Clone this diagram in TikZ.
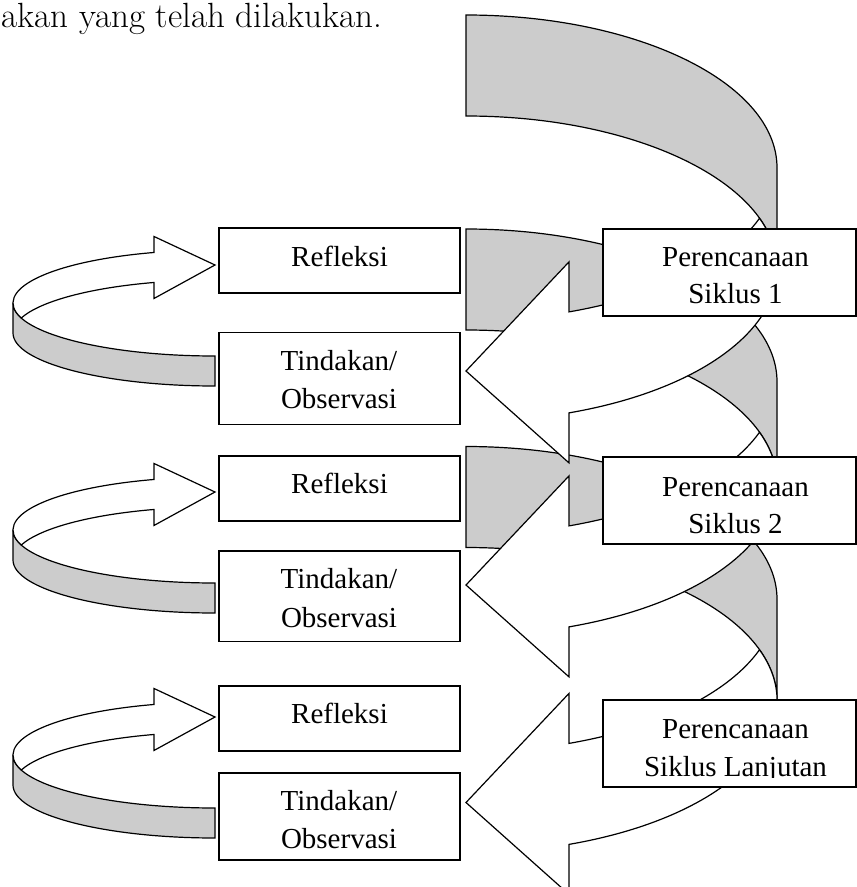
\documentclass[tikz,border=0pt]{standalone}
\usepackage{fontspec}
\newfontfamily\boxfont{Liberation Serif}
\definecolor{shadegrey}{RGB}{204,204,204}
% curved-arrow outline in a local frame (origin = top-left of the tail, y down = negative)
\newcommand{\curvedarrowshape}{%
  \path[backarm] (\cW,-\cRT) arc[start angle=0,end angle=90,x radius=\cW,y radius=\cR]
     -- (0,0) arc[start angle=90,end angle=0,x radius=\cW,y radius=\cR] -- cycle;
  \path[frontarm] (0,-\cYsix) -- (\cA,-\cYfour) -- (\cA,-\cYfive)
     arc[start angle=-\cPa,end angle=-\cPb,x radius=\cW,y radius=\cR]
     arc[start angle=\cPb,end angle=-\cPa,x radius=\cW,y radius=\cR]
     -- (\cA,-\cYeight) -- cycle;
}
\newcommand{\bigparams}{\def\cW{311}\def\cR{152.75}\def\cRT{253.75}\def\cA{103}%
  \def\cYfour{246.88}\def\cYfive{296.88}\def\cYsix{356}\def\cYeight{447.88}%
  \def\cPa{70.658}\def\cPb{19.306}}
\newcommand{\smallparams}{\def\cW{202}\def\cR{53}\def\cRT{83}\def\cA{61}%
  \def\cYfour{87.53}\def\cYfive{103.53}\def\cYsix{121}\def\cYeight{149.53}%
  \def\cPa{72.42}\def\cPb{16.44}}
\begin{document}
\begin{tikzpicture}[x=1pt,y=1pt,
  backarm/.style={fill=shadegrey,draw=black,line width=1.2pt,line join=miter},
  frontarm/.style={fill=white,draw=black,line width=1.2pt,line join=miter},
  stagebox/.style={draw=black,line width=1.3pt,fill=white,inner sep=0pt,outer sep=0pt,anchor=north west},
  stagetext/.style={font=\boxfont\fontsize{29}{35}\selectfont,inner sep=0pt,anchor=base}]
\useasboundingbox (0,0) rectangle (857,-887);
\clip (0,0) rectangle (857,-887);

% intro text (cut-off sentence)
\node[font=\fontsize{35}{40}\selectfont,anchor=base west,inner sep=0pt] (intro) at (1.5,-27) {akan yang telah dilakukan.};

% small curved arrows on the left (rotated curved arrows)
\coordinate (sa1) at (215,-386);
\coordinate (sa2) at (215,-613);
\coordinate (sa3) at (215,-838);
\foreach \c in {sa1,sa2,sa3}{
  \begin{scope}[shift={(\c)},rotate=180]
    \smallparams\curvedarrowshape
  \end{scope}
}

% big curved arrows (bottom one first, top one last)
\coordinate (ba1) at (466,-15);
\coordinate (ba2) at (466,-229);
\coordinate (ba3) at (466,-446.5);
\foreach \c in {ba3,ba2,ba1}{
  \begin{scope}[shift={(\c)}]
    \bigparams\curvedarrowshape
  \end{scope}
}

% left column boxes
\node[stagebox,minimum width=241pt,minimum height=65pt] (ref1) at (219,-228) {};
\node[stagebox,minimum width=241pt,minimum height=92pt] (tin1) at (219,-332.5) {};
\node[stagebox,minimum width=241pt,minimum height=65pt] (ref2) at (219,-456) {};
\node[stagebox,minimum width=241pt,minimum height=90.5pt] (tin2) at (219,-551) {};
\node[stagebox,minimum width=241pt,minimum height=65pt] (ref3) at (219,-686) {};
\node[stagebox,minimum width=241pt,minimum height=87pt] (tin3) at (219,-773) {};
% right column boxes
\node[stagebox,minimum width=253pt,minimum height=87pt] (per1) at (603,-229) {};
\node[stagebox,minimum width=253pt,minimum height=87pt] (per2) at (603,-457) {};
\node[stagebox,minimum width=253pt,minimum height=87pt] (per3) at (603,-700) {};

% texts
\node[stagetext] (ref1t) at (339.5,-266) {Refleksi};
\node[stagetext] (ref2t) at (339.5,-493.3) {Refleksi};
\node[stagetext] (ref3t) at (339.5,-723) {Refleksi};
\node[stagetext] (tin1a) at (339,-370) {Tindakan/};
\node[stagetext] (tin1b) at (339,-408.5) {Observasi};
\node[stagetext] (tin2a) at (339,-588.5) {Tindakan/};
\node[stagetext] (tin2b) at (339,-627) {Observasi};
\node[stagetext] (tin3a) at (339,-810) {Tindakan/};
\node[stagetext] (tin3b) at (339,-848.5) {Observasi};
\node[stagetext] (per1a) at (735.5,-266) {Perencanaan};
\node[stagetext] (per1b) at (735.5,-303) {Siklus 1};
\node[stagetext] (per2a) at (735.5,-496) {Perencanaan};
\node[stagetext] (per2b) at (735.5,-533.5) {Siklus 2};
\node[stagetext] (per3a) at (735.5,-738.5) {Perencanaan};
\begin{scope}
  \clip (603,-700) rectangle (856,-777.5);
  \node[stagetext] (per3b) at (735.5,-776.5) {Siklus Lanjutan};
\end{scope}
\end{tikzpicture}
\end{document}
